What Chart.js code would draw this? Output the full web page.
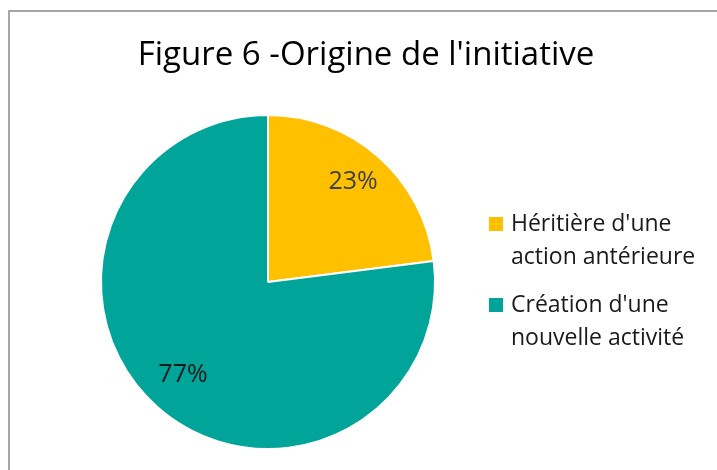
<!DOCTYPE html>
<html>
<head>
<meta charset="utf-8">
<script src="https://cdn.jsdelivr.net/npm/chart.js@4.4.0/dist/chart.umd.min.js"></script>
<style>
  html, body { margin: 0; padding: 0; background: #fff; overflow: hidden; }
  #wrap { position: relative; width: 717px; height: 470px; }
</style>
</head>
<body>
<div id="wrap"><canvas id="pieChart" width="717" height="470"></canvas></div>
<script>
// donnees du graphique
const titre = "Figure 6 -Origine de l'initiative";
const categories = [["Héritière d'une", "action antérieure"], ["Création d'une", "nouvelle activité"]];
const valeurs = [23, 77];
const couleurs = ["#FFC000", "#00A499"];
const couleursEtiquettes = ["#404040", "#1a1a1a"];

const FONT = "'Open Sans', Lato, sans-serif";

// cadre, titre, legende et pourcentages
const decorPlugin = {
  id: "decor",
  beforeDraw(chart) {
    const ctx = chart.ctx;
    ctx.save();
    ctx.strokeStyle = "#a6a6a6";
    ctx.lineWidth = 2;
    ctx.beginPath();
    ctx.moveTo(9, 480);
    ctx.lineTo(9, 11);
    ctx.lineTo(730, 11);
    ctx.stroke();
    ctx.restore();
  },
  afterDraw(chart) {
    const ctx = chart.ctx;
    ctx.save();

    // titre
    ctx.fillStyle = "#000";
    ctx.font = "33px " + FONT;
    ctx.textAlign = "center";
    ctx.textBaseline = "alphabetic";
    ctx.fillText(titre, 366, 65);

    // legende
    ctx.textAlign = "left";
    ctx.font = "23px " + FONT;
    let y = 231;
    chart.data.labels.forEach((lab, i) => {
      ctx.fillStyle = couleurs[i];
      ctx.fillRect(489, y - 14, 14, 14);
      ctx.fillStyle = "#1a1a1a";
      lab.forEach((ligne, j) => {
        ctx.fillText(ligne, 511, y + j * 33);
      });
      y += 81;
    });

    // pourcentages sur les parts
    const meta = chart.getDatasetMeta(0);
    const total = valeurs.reduce((a, b) => a + b, 0);
    ctx.font = "25px " + FONT;
    ctx.textAlign = "center";
    ctx.textBaseline = "middle";
    meta.data.forEach((arc, i) => {
      const p = arc.getProps(["x", "y", "startAngle", "endAngle", "outerRadius"], true);
      const mid = (p.startAngle + p.endAngle) / 2;
      const r = p.outerRadius * 0.77;
      ctx.fillStyle = couleursEtiquettes[i];
      ctx.fillText(Math.round(valeurs[i] / total * 100) + "%", p.x + Math.cos(mid) * r, p.y + Math.sin(mid) * r - 4);
    });
    ctx.restore();
  }
};

new Chart(document.getElementById("pieChart").getContext("2d"), {
  type: "pie",
  data: {
    labels: categories,
    datasets: [{
      data: valeurs,
      backgroundColor: couleurs,
      borderColor: "#ffffff",
      borderWidth: 2,
    }],
  },
  options: {
    responsive: false,
    animation: false,
    layout: { padding: { left: 100, right: 281, top: 114, bottom: 20 } },
    plugins: {
      legend: { display: false },
      tooltip: { enabled: false },
      title: { display: false },
    },
  },
  plugins: [decorPlugin],
});
</script>
</body>
</html>
